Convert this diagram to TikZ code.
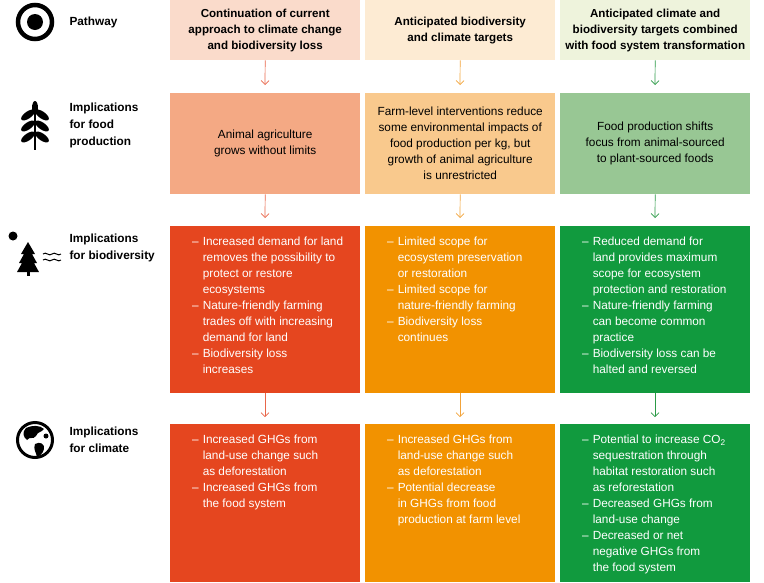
\documentclass[tikz,border=0pt]{standalone}
\usepackage{fontspec}
\usetikzlibrary{arrows.meta}
\setmainfont{Liberation Sans}
\definecolor{headA}{HTML}{FADBCB}
\definecolor{headB}{HTML}{FDEBD3}
\definecolor{headC}{HTML}{EEF3DC}
\definecolor{foodA}{HTML}{F4A984}
\definecolor{foodB}{HTML}{F9C98D}
\definecolor{foodC}{HTML}{98C794}
\definecolor{darkA}{HTML}{E5461F}
\definecolor{darkB}{HTML}{F29200}
\definecolor{darkC}{HTML}{119A3E}
\definecolor{arrA}{HTML}{E8664A}
\definecolor{arrB}{HTML}{F2A33A}
\definecolor{arrC}{HTML}{2B9A46}
\newcommand{\bul}{\textendash}
\begin{document}
\begin{tikzpicture}[x=1pt,y=-1pt,
    font=\fontsize{11.8}{16}\selectfont,
    headbox/.style={rectangle, anchor=north west, minimum width=190pt, minimum height=60pt, align=center, font=\fontsize{11.6}{16}\selectfont\bfseries, inner sep=0pt},
    foodbox/.style={rectangle, anchor=north west, minimum width=190pt, minimum height=101pt, align=center, inner sep=0pt},
    listbox/.style={rectangle, anchor=north west, inner sep=0pt, text=white},
    rowlabel/.style={anchor=west, align=left, font=\fontsize{11.8}{17}\selectfont\bfseries},
    flow/.style={->, >={Straight Barb[length=4pt,width=8pt]}, line width=0.7pt}]
\useasboundingbox (0,0) rectangle (764,582);

% Pathway row
\node[headbox, fill=headA] (headA) at (170,0) {Continuation of current\\approach to climate change\\and biodiversity loss};
\node[headbox, fill=headB] (headB) at (365,0) {Anticipated biodiversity\\and climate targets};
\node[headbox, fill=headC] (headC) at (560,0) {Anticipated climate and\\biodiversity targets combined\\with food system transformation};

% Food production row
\node[foodbox, fill=foodA] (foodA) at (170,93) {Animal agriculture\\grows without limits};
\node[foodbox, fill=foodB] (foodB) at (365,93) {Farm-level interventions reduce\\some environmental impacts of\\food production per kg, but\\growth of animal agriculture\\is unrestricted};
\node[foodbox, fill=foodC] (foodC) at (560,93) {Food production shifts\\focus from animal-sourced\\to plant-sourced foods};

% Biodiversity row
\fill[darkA] (170,226) rectangle (360,393);
\fill[darkB] (365,226) rectangle (555,393);
\fill[darkC] (560,226) rectangle (750,393);
\node[listbox] (bioA) at (170,234) {\begin{tabular}{@{\hspace{22pt}}l@{\hspace{4pt}}l@{}}
\bul & Increased demand for land\\ & removes the possibility to\\ & protect or restore\\ & ecosystems\\
\bul & Nature-friendly farming\\ & trades off with increasing\\ & demand for land\\
\bul & Biodiversity loss\\ & increases\end{tabular}};
\node[listbox] (bioB) at (365,234) {\begin{tabular}{@{\hspace{22pt}}l@{\hspace{4pt}}l@{}}
\bul & Limited scope for\\ & ecosystem preservation\\ & or restoration\\
\bul & Limited scope for\\ & nature-friendly farming\\
\bul & Biodiversity loss\\ & continues\end{tabular}};
\node[listbox] (bioC) at (560,234) {\begin{tabular}{@{\hspace{22pt}}l@{\hspace{4pt}}l@{}}
\bul & Reduced demand for\\ & land provides maximum\\ & scope for ecosystem\\ & protection and restoration\\
\bul & Nature-friendly farming\\ & can become common\\ & practice\\
\bul & Biodiversity loss can be\\ & halted and reversed\end{tabular}};

% Climate row
\fill[darkA] (170,424) rectangle (360,582);
\fill[darkB] (365,424) rectangle (555,582);
\fill[darkC] (560,424) rectangle (750,582);
\node[listbox] (climA) at (170,432) {\begin{tabular}{@{\hspace{22pt}}l@{\hspace{4pt}}l@{}}
\bul & Increased GHGs from\\ & land-use change such\\ & as deforestation\\
\bul & Increased GHGs from\\ & the food system\end{tabular}};
\node[listbox] (climB) at (365,432) {\begin{tabular}{@{\hspace{22pt}}l@{\hspace{4pt}}l@{}}
\bul & Increased GHGs from\\ & land-use change such\\ & as deforestation\\
\bul & Potential decrease\\ & in GHGs from food\\ & production at farm level\end{tabular}};
\node[listbox] (climC) at (560,432) {\begin{tabular}{@{\hspace{22pt}}l@{\hspace{4pt}}l@{}}
\bul & Potential to increase CO\textsubscript{2}\\ & sequestration through\\ & habitat restoration such\\ & as reforestation\\
\bul & Decreased GHGs from\\ & land-use change\\
\bul & Decreased or net\\ & negative GHGs from\\ & the food system\end{tabular}};

% Arrows between rows
\coordinate (bioAtop) at (265,218); \coordinate (bioBtop) at (460,218); \coordinate (bioCtop) at (655,218);
\coordinate (climAtop) at (265,417); \coordinate (climBtop) at (460,417); \coordinate (climCtop) at (655,417);
\coordinate (foodAtop) at (265,85); \coordinate (foodBtop) at (460,85); \coordinate (foodCtop) at (655,85);
\draw[flow, arrA] (headA.south) -- (foodAtop);
\draw[flow, arrB] (headB.south) -- (foodBtop);
\draw[flow, arrC] (headC.south) -- (foodCtop);
\draw[flow, arrA] (foodA.south) -- (bioAtop);
\draw[flow, arrB] (foodB.south) -- (bioBtop);
\draw[flow, arrC] (foodC.south) -- (bioCtop);
\draw[flow, arrA] (265,393) -- (climAtop);
\draw[flow, arrB] (460,393) -- (climBtop);
\draw[flow, arrC] (655,393) -- (climCtop);

% Row labels
\node[rowlabel] (lblPath) at (66,22) {Pathway};
\node[rowlabel] (lblFood) at (66,125) {Implications\\for food\\production};
\node[rowlabel] (lblBio) at (66,248) {Implications\\for biodiversity};
\node[rowlabel] (lblClim) at (66,440) {Implications\\for climate};

% Icons
\draw[line width=4.5pt] (35,22) circle (17);
\fill (35,22) circle (8);
% wheat
\draw[line width=1.2pt] (35,104) -- (35,150);
\fill (35,108) ellipse (3 and 7);
\foreach \yy in {115,126,137} {
  \fill[rotate around={35:(28,\yy)}] (28,\yy) ellipse (8 and 3.5);
  \fill[rotate around={-35:(42,\yy)}] (42,\yy) ellipse (8 and 3.5);
}
% tree
\fill (13,236) circle (4.5);
\fill (28,242) -- (21,254) -- (24,254) -- (19,263) -- (22,263) -- (17,272) -- (39,272) -- (34,263) -- (37,263) -- (32,254) -- (35,254) -- cycle;
\fill (26.5,271) rectangle (29.5,276);
\foreach \yy in {254,260} {
  \draw[line width=1pt] (43,\yy) .. controls (46,\yy-3) and (49,\yy+3) .. (52,\yy) .. controls (55,\yy-3) and (58,\yy+3) .. (61,\yy);
}
% globe
\draw[line width=3pt] (35,440) circle (17.5);
\fill (26,428) .. controls (32,425) and (40,425) .. (44,429) .. controls (41,433) and (38,431) .. (36,436) .. controls (33,440) and (30,436) .. (27,440) .. controls (23,437) and (22,432) .. cycle;
\fill (35,444) .. controls (40,441) and (45,444) .. (44,449) .. controls (43,454) and (39,456) .. (37,457) .. controls (36,452) and (33,449) .. cycle;
\fill (46,436) circle (2.5);
\end{tikzpicture}
\end{document}
